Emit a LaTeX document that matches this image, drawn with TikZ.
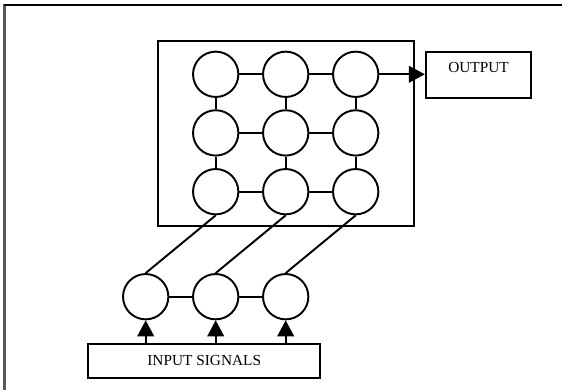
\documentclass[tikz,border=0pt]{standalone}
\usepackage{fontspec}
\setmainfont{Liberation Serif}
\usepackage{tikz}
\usetikzlibrary{arrows.meta}
\tikzset{neuron/.style={draw,circle,minimum size=34pt,inner sep=0pt},
    box/.style={draw,rectangle,inner sep=0pt,font=\fontsize{11.5}{13}\selectfont},
    signal/.style={-{Triangle[length=12pt,width=12.5pt]}},
    frame/.style={line width=1.5pt}}

\begin{document}
\begin{tikzpicture}[x=0.75pt,y=-0.75pt,line width=1.45pt]
    \useasboundingbox (0,0) rectangle (562,390);
    \draw[frame,black!65] (4.5,4) -- (4.5,390);
    \draw[frame] (4,4.5) -- (562,4.5);
    \node[box,minimum width=192.5pt,minimum height=139pt] (net) at (286,133.5) {};
    \node[neuron] (a1) at (215.7,74.3) {};
    \node[neuron] (a2) at (285.7,74.3) {};
    \node[neuron] (a3) at (355.7,74.3) {};
    \node[neuron] (b1) at (215.7,132.9) {};
    \node[neuron] (b2) at (285.7,132.9) {};
    \node[neuron] (b3) at (355.7,132.9) {};
    \node[neuron] (c1) at (215.7,191.7) {};
    \node[neuron] (c2) at (285.7,191.7) {};
    \node[neuron] (c3) at (355.7,191.7) {};
    \node[neuron] (d1) at (145.7,296.7) {};
    \node[neuron] (d2) at (215.7,296.7) {};
    \node[neuron] (d3) at (285.7,296.7) {};
    \node[box,minimum width=79pt,minimum height=34.5pt,text height=7.5pt,text depth=12.1pt]
        (output) at (478.5,75.3) {OUTPUT};
    \node[box,minimum width=174.2pt,minimum height=25.2pt,text height=7.5pt]
        (signals) at (204.2,360.8) {INPUT SIGNALS};
    \draw (a1) -- (a2) -- (a3);
    \draw (b1) -- (b2) -- (b3);
    \draw (c1) -- (c2) -- (c3);
    \draw (a1) -- (b1) -- (c1);
    \draw (a2) -- (b2) -- (c2);
    \draw (a3) -- (b3) -- (c3);
    \draw (d1) -- (d2) -- (d3);
    \draw (c1.south) -- (d1.north);
    \draw (c2.south) -- (d2.north);
    \draw (c3.south) -- (d3.north);
    \draw[signal] (a3) -- (a3 -| output.west);
    \draw[signal] (signals.north -| d1) -- (d1);
    \draw[signal] (signals.north -| d2) -- (d2);
    \draw[signal] (signals.north -| d3) -- (d3);
\end{tikzpicture}
\end{document}
